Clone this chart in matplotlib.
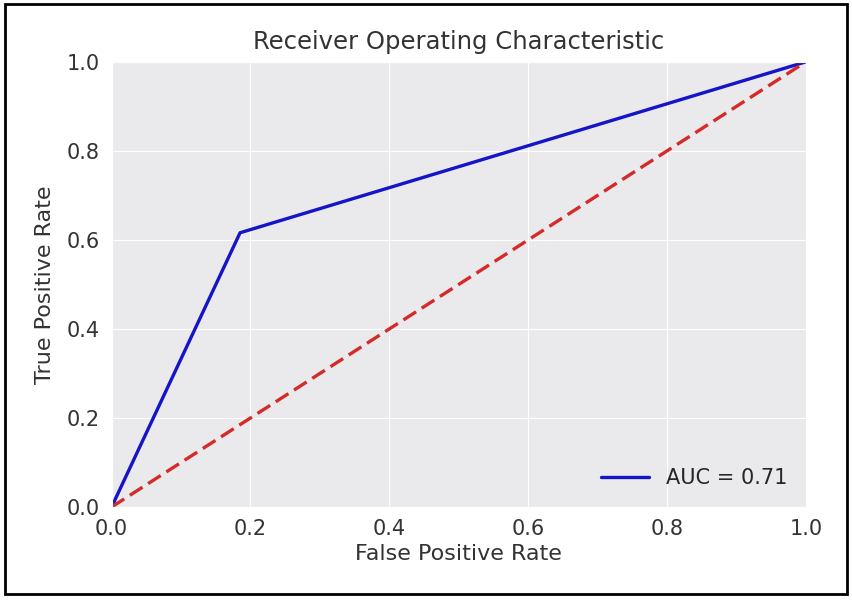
import matplotlib
matplotlib.use('Agg')
import matplotlib.pyplot as plt
import seaborn as sns
from matplotlib.patches import Rectangle

# roc points
fpr = [0.0, 0.185, 1.0]
tpr = [0.0, 0.616, 1.0]
diag = [0.0, 1.0]
roc_auc = 0.71

sns.set_style('darkgrid', {'axes.facecolor': '#EAEAEC'})
plt.rcParams['font.family'] = ['DejaVu Sans']

fig = plt.figure(figsize=(8.52, 6), dpi=100)
ax = fig.add_axes([0.131, 0.155, 0.815, 0.742])

ax.plot(fpr, tpr, color='#1414c8', lw=2.4, label='AUC = %0.2f' % roc_auc)
ax.plot(diag, diag, color='#d42a2a', ls='--', lw=2.4, dashes=(4.5, 2))
ax.set_xlim([0, 1])
ax.set_ylim([0, 1])
ax.set_title('Receiver Operating Characteristic', fontsize=17.5, color='#333333', pad=9)
ax.set_ylabel('True Positive Rate', fontsize=16, color='#333333', labelpad=8)
ax.set_xlabel('False Positive Rate', fontsize=16, color='#333333', labelpad=4)
ax.tick_params(labelsize=15, colors='#333333', pad=5)
ax.legend(loc='lower right', frameon=False, fontsize=15, handlelength=2.3)

# black frame round the whole picture
fig.patches.append(Rectangle((0.006, 0.01), 0.988, 0.983, transform=fig.transFigure,
                             fill=False, edgecolor='black', lw=2))

fig.savefig('out.png', dpi=100)
